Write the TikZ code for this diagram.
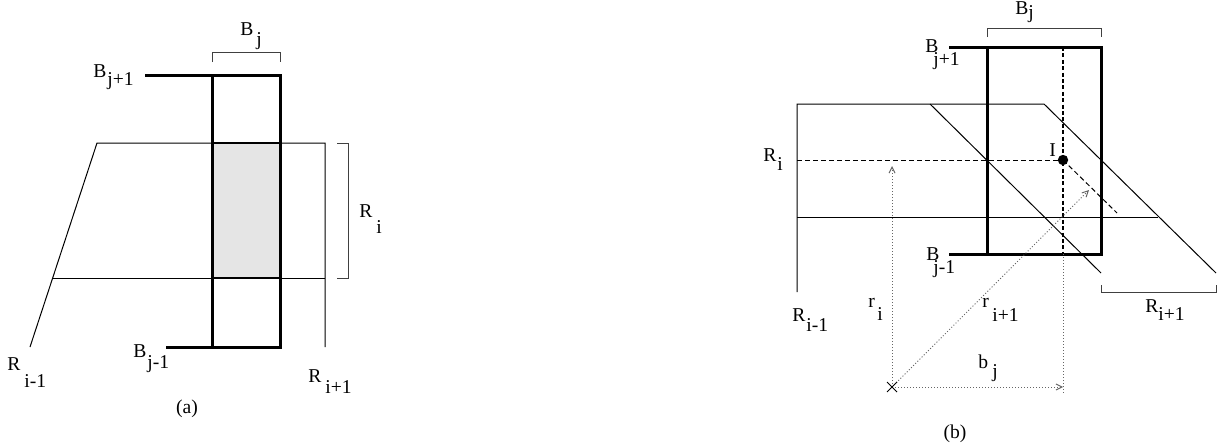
\documentclass[tikz,border=0pt]{standalone}
\usepackage{fontspec}
\setmainfont{Liberation Serif}
\usetikzlibrary{arrows.meta}
\begin{document}
\begin{tikzpicture}[x=0.5pt,y=-0.5pt,
  thinln/.style={line width=0.5pt},
  thickln/.style={line width=1.5pt},
  brack/.style={line width=0.5pt, black!75},
  lbl/.style={inner sep=0pt, anchor=base west, font=\fontsize{9.8}{12}\selectfont},
  dotl/.style={line width=0.5pt, black!60, dash pattern=on 0.5pt off 1pt},
  dashl/.style={line width=0.5pt, dash pattern=on 2.5pt off 1.5pt},
  thickdash/.style={line width=1.2pt, dash pattern=on 2pt off 1.2pt},
  arr/.style={-{Straight Barb[length=3pt,width=3pt]}},
]
\useasboundingbox (0,0) rectangle (1224,445);

% ---------------- panel (a) ----------------
\coordinate (aRt1) at (97,143);  \coordinate (aRt2) at (325,143);
\coordinate (aRb1) at (53,278);  \coordinate (aRb2) at (325,278);
\coordinate (aSl) at (30,347);   \coordinate (aRv) at (325,347);
\fill[black!10] (212,143) rectangle (280,278);
\draw[thinln] (aSl) -- (aRt1) -- (aRt2) -- (aRv);
\draw[thinln] (aRb1) -- (aRb2);
\draw[line width=1pt] (212,143) -- (280,143) (212,278) -- (280,278);
\coordinate (aB1) at (145,75); \coordinate (aTL) at (212,75); \coordinate (aTR) at (280,75);
\coordinate (aB2) at (166,347); \coordinate (aBL) at (212,347); \coordinate (aBR) at (280,347);
\draw[thickln] (aB1) -- (aTR) -- (aBR) -- (aB2);
\draw[thickln] (aTL) -- (aBL);
\draw[brack] (212,62) -- (212,52) -- (280,52) -- (280,62);
\draw[brack] (337,143) -- (348,143) -- (348,278) -- (337,278);

\node[lbl] (aBj) at (240,35) {B};   \node[lbl] (aBjs) at (256,45) {j};
\node[lbl] (aBu) at (93,77) {B};    \node[lbl] (aBus) at (107,85) {j+1};
\node[lbl] (aRi) at (359,217) {R};  \node[lbl] (aRis) at (376,233) {i};
\node[lbl] (aRm) at (7,370) {R};    \node[lbl] (aRms) at (24,387) {i-1};
\node[lbl] (aBd) at (133,357) {B};  \node[lbl] (aBds) at (147,368) {j-1};
\node[lbl] (aRp) at (308,382) {R};  \node[lbl] (aRps) at (325,393) {i+1};
\node[lbl, anchor=base] (acap) at (187,413) {(a)};

% ---------------- panel (b) ----------------
\coordinate (bL1) at (797,292); \coordinate (bL2) at (797,104);
\coordinate (bT2) at (1044,104); \coordinate (bD2e) at (1216,273);
\coordinate (bD1s) at (930,104); \coordinate (bD1e) at (1101,273);
\coordinate (bH1) at (797,217); \coordinate (bH2) at (1158,217);
\draw[thinln] (bL1) -- (bL2) -- (bT2) -- (bD2e);
\draw[thinln] (bD1s) -- (bD1e);
\draw[thinln] (bH1) -- (bH2);
\coordinate (bB1) at (949,47); \coordinate (bTL) at (987,47); \coordinate (bTR) at (1101,47);
\coordinate (bB2) at (949,254); \coordinate (bBL) at (987,254); \coordinate (bBR) at (1101,254);
\draw[thickln] (bB1) -- (bTR) -- (bBR) -- (bB2);
\draw[thickln] (bTL) -- (bBL);
\draw[brack] (987,37) -- (987,28) -- (1101,28) -- (1101,37);
\draw[brack] (1101,285) -- (1101,292) -- (1216,292) -- (1216,285);

\coordinate (I) at (1063,160);
\coordinate (bRl) at (797,160);
\coordinate (bVt) at (1063,47); \coordinate (bVb) at (1063,254); \coordinate (bVe) at (1063,395);
\coordinate (bDe) at (1117,213);
\draw[dashl] (bRl) -- (I);
\draw[thickdash] (bVt) -- (bVb);
\draw[dotl] (bVb) -- (bVe);
\draw[dashl] (I) -- (bDe);
\fill (I) circle[radius=2.6pt];

\coordinate (O) at (892,387);
\coordinate (tipV) at (892,166); \coordinate (tipH) at (1063,387); \coordinate (tipD) at (1089,190);
\draw[dotl, arr] (O) -- (tipV);
\draw[dotl, arr] (O) -- (tipH);
\draw[dotl, arr] (O) -- (tipD);
\draw[line width=0.5pt] (887,382) -- (897,392) (887,392) -- (897,382);

\node[lbl] (bBj) at (1015,14) {B};   \node[lbl] (bBjs) at (1028,18) {j};
\node[lbl] (bBu) at (925,52) {B};    \node[lbl] (bBus) at (933,65) {j+1};
\node[lbl] (bRi) at (763,161) {R};   \node[lbl] (bRis) at (777,170) {i};
\node[lbl] (bI) at (1049,156) {I};
\node[lbl] (bBd) at (926,260) {B};   \node[lbl] (bBds) at (933,273) {j-1};
\node[lbl] (bRm) at (792,321) {R};   \node[lbl] (bRms) at (806,331) {i-1};
\node[lbl] (bri) at (868,307) {r};   \node[lbl] (bris) at (877,320) {i};
\node[lbl] (brp) at (982,307) {r};   \node[lbl] (brps) at (992,321) {i+1};
\node[lbl] (bRp) at (1145,312) {R};  \node[lbl] (bRps) at (1158,320) {i+1};
\node[lbl] (bbj) at (978,368) {b};   \node[lbl] (bbjs) at (992,377) {j};
\node[lbl, anchor=base] (bcap) at (955,438) {(b)};
\end{tikzpicture}
\end{document}
